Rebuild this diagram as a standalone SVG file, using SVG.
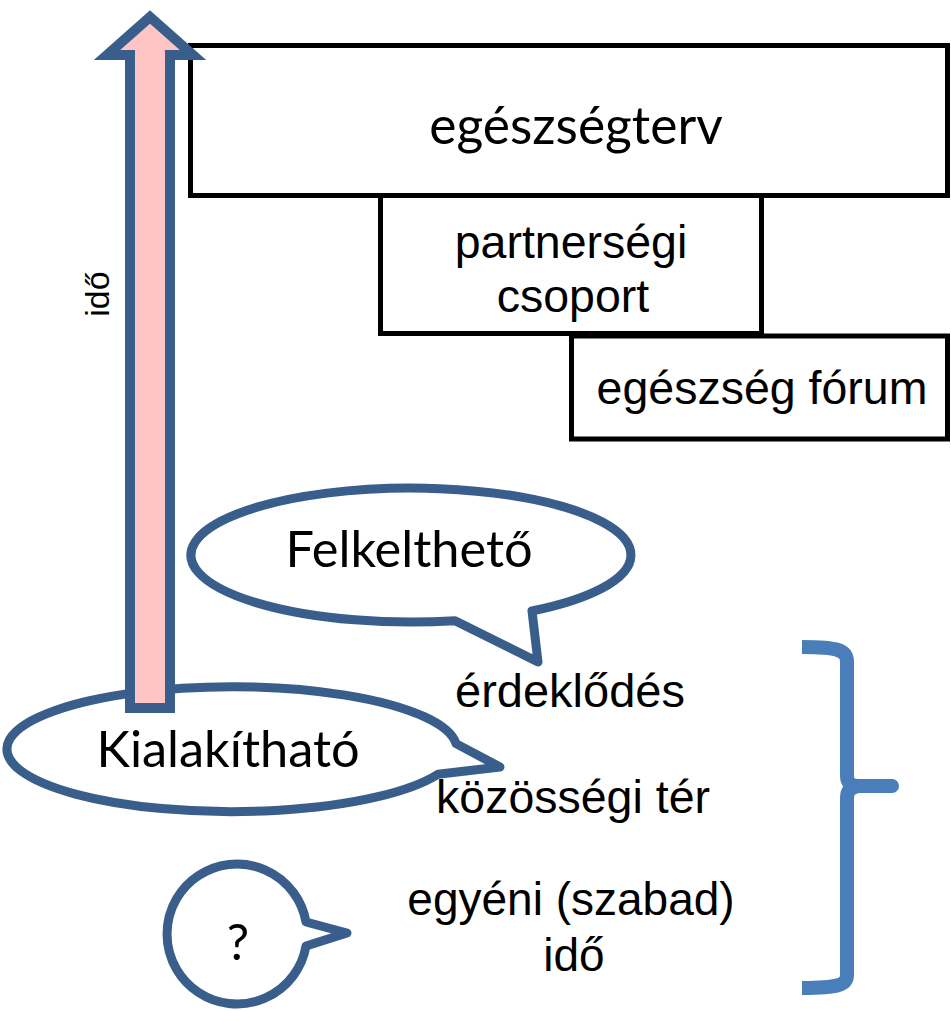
<svg xmlns="http://www.w3.org/2000/svg" width="951" height="1011" viewBox="0 0 951 1011">
<style>
.box{fill:#fff;stroke:#000;stroke-width:5}
.bub{fill:#fff;stroke:#3A5E8C;stroke-width:9;stroke-linejoin:round}
.cal{font-family:Lato,"Liberation Sans",sans-serif;fill:#000;text-anchor:middle}
.ar{font-family:"Liberation Sans",Arial,sans-serif;fill:#000;text-anchor:middle}
</style>
<rect width="951" height="1011" fill="#fff"/>
<g id="box-egeszsegterv">
<rect class="box" x="190.5" y="45.5" width="757" height="150"/>
<text class="cal" x="576" y="144" font-size="51.5">egészségterv</text>
</g>
<g id="box-partnersegi">
<rect class="box" x="380.5" y="195.5" width="381" height="138"/>
<text class="ar" x="571" y="258" font-size="46.5">partnerségi</text>
<text class="ar" x="573" y="312" font-size="46.5">csoport</text>
</g>
<g id="box-forum">
<rect class="box" x="571.5" y="336" width="376" height="103"/>
<text class="ar" x="762" y="404" font-size="46.5">egészség fórum</text>
</g>
<g id="bubble-felkeltheto">
<path class="bub" d="M455,620.7 A220,67 0 1 1 532,611 L538,662 Z"/>
<text class="cal" x="409" y="567" font-size="50.5">Felkelthető</text>
</g>
<g id="bubble-kialakithato">
<path class="bub" d="M456,743.6 A225,62.5 0 1 0 438,774.2 L500,767 Z"/>
<text class="cal" x="228" y="767" font-size="50.5">Kialakítható</text>
</g>
<g id="bubble-question">
<path class="bub" d="M306,922 A70,70 0 1 0 306,946 L347,933 Z"/>
<text class="cal" x="238" y="960" font-size="50">?</text>
</g>
<g id="connectors">
<g id="time-arrow">
<path d="M150,17 L193,55 L170,55 L170,708 L130,708 L130,55 L107,55 Z" fill="#FFC4C4" stroke="#3A5E8C" stroke-width="10" stroke-linejoin="miter"/>
<text class="ar" transform="translate(109,294) rotate(-90)" font-size="34">idő</text>
</g>
<g id="brace" fill="none" stroke="#4A7EBB" stroke-width="14">
<path d="M802,647 C838,647 847,650 847,662 V776 Q847,786 858,786 M858,786 Q847,788 847,798 V975 C847,985 838,988 802,988"/>
<path d="M858,786 H892" stroke-linecap="round"/>
</g>
</g>
<g id="labels">
<text class="ar" x="570" y="707" font-size="47">érdeklődés</text>
<text class="ar" x="573" y="813" font-size="46.5">közösségi tér</text>
<text class="ar" x="571" y="915" font-size="46">egyéni (szabad)</text>
<text class="ar" x="574" y="971" font-size="46">idő</text>
</g>
</svg>
